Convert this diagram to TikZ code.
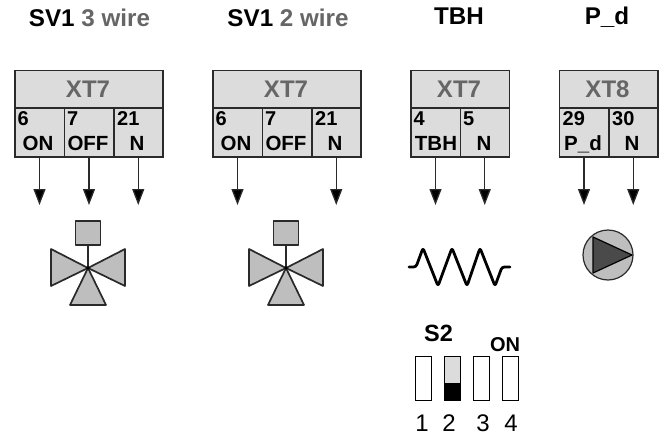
\documentclass[tikz,border=0pt]{standalone}
\usepackage{fontspec}
\setmainfont{Liberation Sans}
\usetikzlibrary{arrows.meta}
\definecolor{boxfill}{HTML}{DCDCDC}
\definecolor{linec}{HTML}{2A2A2A}
\definecolor{graytxt}{HTML}{666666}
\definecolor{symfill}{HTML}{BEBEBE}
\definecolor{pumpdark}{HTML}{4A4A4A}
\tikzset{
  x=1pt,y=-1pt,
  box/.style={draw=linec,fill=boxfill,line width=1.5pt,inner sep=0pt,minimum height=#1,anchor=north west},
  title/.style={font=\bfseries\fontsize{24.2}{26}\selectfont,inner sep=0pt,anchor=base},
  head/.style={font=\bfseries\fontsize{24}{26}\selectfont,text=graytxt,inner sep=0pt,anchor=base},
  num/.style={font=\bfseries\fontsize{20}{22}\selectfont,inner sep=0pt,anchor=base west},
  lab/.style={font=\bfseries\fontsize{20.5}{22}\selectfont,inner sep=0pt,anchor=base},
  wire/.style={draw=linec,line width=1.3pt,-{Triangle[length=16pt,width=12pt,fill=black]}},
  sym/.style={draw=linec,fill=symfill,line width=1.7pt,line join=round},
  dip/.style={draw=black,line width=1.2pt,fill=white,minimum width=16pt,minimum height=44pt,inner sep=0pt,anchor=north west},
  digit/.style={font=\fontsize{24}{26}\selectfont,inner sep=0pt,anchor=base}
}
\newcommand{\headbox}[5]{% name, x, width, text, center
  \node[box=38pt,minimum width=#3pt] (#1) at (#2,69.5) {};
  \node[head] (#1t) at (#5,97) {#4};
}
\newcommand{\cellbox}[7]{% name, x, width, num, numx, label, labelcenter
  \node[box=49pt,minimum width=#3pt] (#1) at (#2,107) {};
  \node[num] (#1n) at (#5,125) {#4};
  \node[lab] (#1l) at (#7,150.5) {#6};
}
\begin{document}
\begin{tikzpicture}
\useasboundingbox (0,0) rectangle (669,439);

% titles
\node[title] (t1) at (89.5,26) {SV1 \textcolor{graytxt}{3 wire}};
\node[title] (t2) at (288,26) {SV1 \textcolor{graytxt}{2 wire}};
\node[title] (t3) at (459,24) {TBH};
\node[title] (t4) at (607,24) {P\_d};

% box 1
\headbox{a}{14}{148}{XT7}{88}
\cellbox{a1}{14}{49.5}{6}{17.5}{ON}{38}
\cellbox{a2}{63.5}{49.5}{7}{67}{OFF}{88}
\cellbox{a3}{113}{49}{21}{117}{N}{137}
% box 2
\headbox{b}{212}{148}{XT7}{286}
\cellbox{b1}{212}{49.5}{6}{215.5}{ON}{236}
\cellbox{b2}{261.5}{49.5}{7}{265}{OFF}{286}
\cellbox{b3}{311}{49}{21}{315}{N}{335}
% box 3
\headbox{c}{410}{98.5}{XT7}{459}
\cellbox{c1}{410}{49.5}{4}{413.5}{TBH}{436}
\cellbox{c2}{459.5}{49}{5}{463}{N}{484}
% box 4
\headbox{d}{558.5}{98.5}{XT8}{607.5}
\cellbox{d1}{558.5}{49.5}{29}{562.5}{P\_d}{583}
\cellbox{d2}{608}{49}{30}{612}{N}{632}

% wire ends
\coordinate (ea1) at (a1.south |- 0,205);
\coordinate (ea2) at (a2.south |- 0,205);
\coordinate (ea3) at (a3.south |- 0,205);
\coordinate (eb1) at (b1.south |- 0,205);
\coordinate (eb3) at (b3.south |- 0,205);
\coordinate (ec1) at (c1.south |- 0,205);
\coordinate (ec2) at (c2.south |- 0,205);
\coordinate (ed1) at (d1.south |- 0,205);
\coordinate (ed2) at (d2.south |- 0,205);
\draw[wire] (a1.south) -- (ea1);
\draw[wire] (a2.south) -- (ea2);
\draw[wire] (a3.south) -- (ea3);
\draw[wire] (b1.south) -- (eb1);
\draw[wire] (b3.south) -- (eb3);
\draw[wire] (c1.south) -- (ec1);
\draw[wire] (c2.south) -- (ec2);
\draw[wire] (d1.south) -- (ed1);
\draw[wire] (d2.south) -- (ed2);

% valves
\foreach \cx in {88,286}{
  \begin{scope}[shift={(\cx,268)}]
    \draw[sym] (0,0) -- (-37,-19) -- (-37,18) -- cycle;
    \draw[sym] (0,0) -- (37,-19) -- (37,18) -- cycle;
    \draw[sym] (0,0) -- (-18,37) -- (18,37) -- cycle;
    \draw[draw=linec,line width=1.4pt] (0,0) -- (0,-23);
    \draw[sym] (-12.5,-47) rectangle (12.5,-23);
    \fill[black] (0,0) circle (1.8);
  \end{scope}
}

% heater
\draw[black,line width=2.8pt,line join=round,line cap=round,rounded corners=2.5pt]
  (409,267) -- (416,267) -- (423,248) -- (438,286) -- (452,248) -- (467,286)
  -- (480,248) -- (495,286) -- (502,267) -- (510,267);

% pump
\draw[draw=linec,fill=symfill,line width=1.2pt] (608,255) circle (25);
\draw[draw=black,fill=pumpdark,line width=1.2pt,line join=round] (593,237) -- (632,255) -- (593,273) -- cycle;

% S2
\node[font=\bfseries\fontsize{23.5}{26}\selectfont,inner sep=0pt,anchor=base] (s2) at (438.5,341) {S2};
\node[font=\bfseries\fontsize{20}{22}\selectfont,inner sep=0pt,anchor=base] (on) at (505,351) {ON};
\node[dip] (d1s) at (415,356) {};
\node[dip,fill=boxfill] (d2s) at (444,356) {};
\fill[black] (444,383) rectangle (460,400);
\node[dip] (d3s) at (473,356) {};
\node[dip] (d4s) at (502,356) {};
\node[digit] (n1) at (422,431) {1};
\node[digit] (n2) at (449,431) {2};
\node[digit] (n3) at (483,431) {3};
\node[digit] (n4) at (511,431) {4};
\end{tikzpicture}
\end{document}
